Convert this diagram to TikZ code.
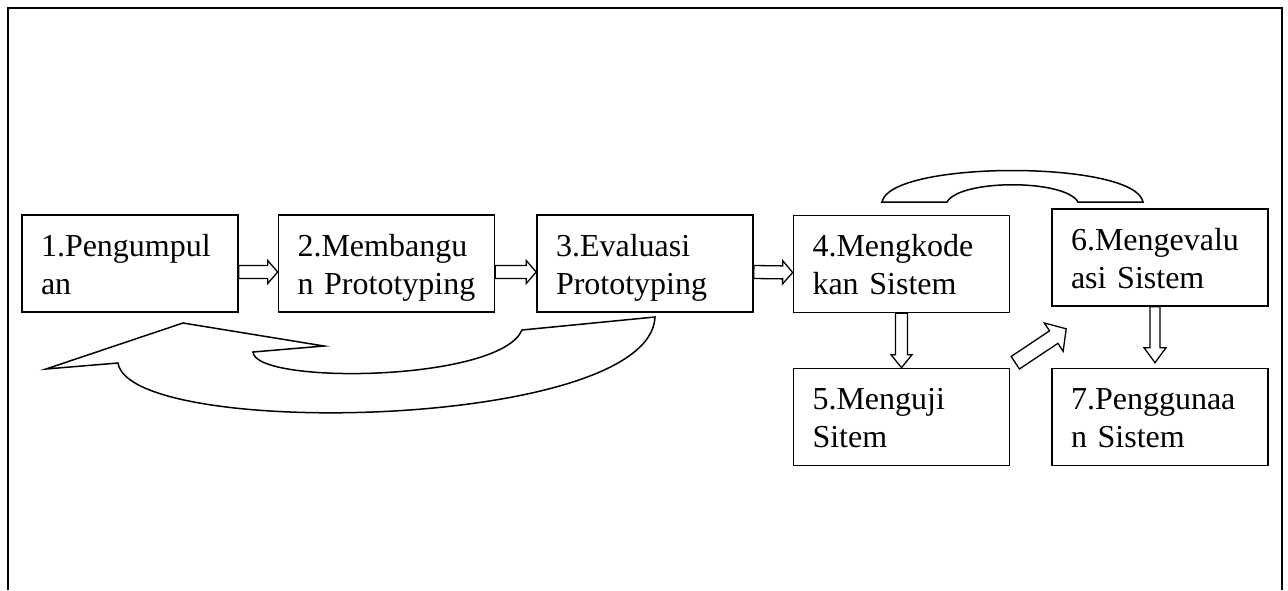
\documentclass[tikz,border=0pt]{standalone}
\usepackage{fontspec}
\setmainfont{Liberation Serif}
\usetikzlibrary{calc}
\tikzset{
  stepbox/.style={draw, line width=1.6pt, rectangle, minimum width=216pt, minimum height=97pt,
    text width=178pt, align=left, inner xsep=19pt, inner ysep=13pt,
    text height=28pt, text depth=43pt, font=\fontsize{32}{38}\selectfont},
  arrline/.style={draw, line width=1.3pt, line join=miter},
  blockarr/.style n args={3}{to path={
    ($(\tikztostart)!#1!90:(\tikztotarget)$) --
    ($(\tikztotarget)!#3!(\tikztostart)!#1!-90:(\tikztostart)$) --
    ($(\tikztotarget)!#3!(\tikztostart)!#2!-90:(\tikztostart)$) --
    (\tikztotarget) --
    ($(\tikztotarget)!#3!(\tikztostart)!#2!90:(\tikztostart)$) --
    ($(\tikztotarget)!#3!(\tikztostart)!#1!90:(\tikztostart)$) --
    ($(\tikztostart)!#1!-90:(\tikztotarget)$) -- cycle}},
  curvearr/.style={draw, line width=1.5pt, line join=miter}
}
\begin{document}
\begin{tikzpicture}[x=1pt, y=-1pt]
\useasboundingbox (0,0) rectangle (1288,590);
% frame
\draw[line width=1.7pt] (8,590) -- (8,8);
\draw[line width=1.7pt] (1282,590) -- (1282,8);
\draw[line width=2.8pt] (7,8) -- (1283,8);
% boxes
\node[stepbox] (b1) at (130,263.5) {1.Pengumpul\\an};
\node[stepbox] (b2) at (386.5,263.5) {2.Membangu\\n Prototyping};
\node[stepbox] (b3) at (645,263.5) {3.Evaluasi\\Prototyping};
\node[stepbox] (b4) at (901.5,264) {4.Mengkode\\kan Sistem};
\node[stepbox] (b5) at (901.5,417) {5.Menguji\\Sitem};
\node[stepbox] (b6) at (1160,257.5) {6.Mengevalu\\asi Sistem};
\node[stepbox] (b7) at (1160,417) {7.Penggunaa\\n Sistem};
% block arrows
\draw[arrline] ([yshift=-8.5pt]b1.east) to[blockarr={6.5pt}{11.5pt}{10pt}] ([yshift=-8.5pt]b2.west);
\draw[arrline] ([yshift=-8.5pt]b2.east) to[blockarr={6.5pt}{11.5pt}{10pt}] ([yshift=-8.5pt]b3.west);
\draw[arrline] ([yshift=-8.5pt]b3.east) to[blockarr={6.5pt}{11.5pt}{10pt}] ([yshift=-8.5pt]b4.west);
\draw[arrline] (b4.south) to[blockarr={6pt}{10.5pt}{13pt}] (b5.north);
\draw[arrline] ([xshift=-5pt]b6.south) to[blockarr={5pt}{11pt}{15pt}] ([xshift=-5pt,yshift=5pt]b7.north);
\draw[arrline] ([xshift=5pt,yshift=5pt]b5.north east) to[blockarr={7.5pt}{17pt}{15pt}] ([xshift=15pt,yshift=-22pt]b6.south west);
% curved arrow back from 3 to 1
\draw[curvearr] (46,369) -- (183,323) -- (324,346) -- (253,352)
  .. controls (255,385) and (500,382) .. (522,330)
  -- (655,317)
  .. controls (650,430) and (130,440) .. (118,363)
  -- cycle;
% arch between 4 and 6
\draw[curvearr] (882,202) .. controls (890,160) and (1135,160) .. (1143,202)
  -- (1078,202) .. controls (1065,179) and (960,179) .. (947,202) -- cycle;
\end{tikzpicture}
\end{document}
